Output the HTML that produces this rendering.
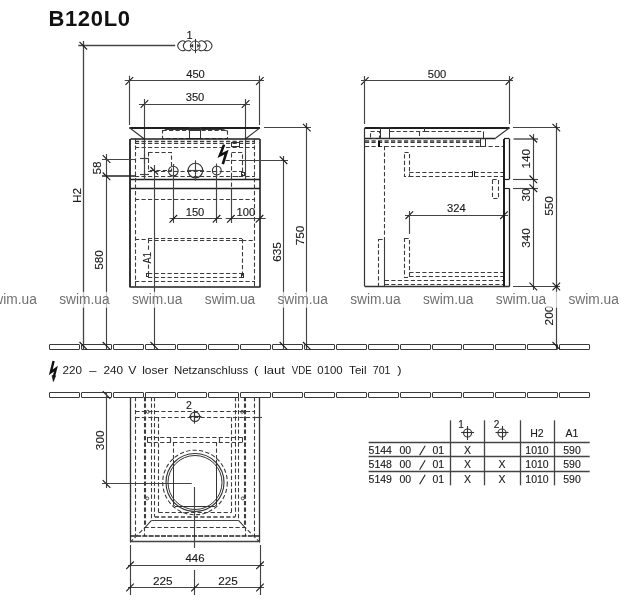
<!DOCTYPE html>
<html><head><meta charset="utf-8"><style>
html,body{margin:0;padding:0;background:#fff;}
svg{display:block;font-family:"Liberation Sans",sans-serif;will-change:transform;}
</style></head><body>
<svg width="630" height="600" viewBox="0 0 630 600">
<rect width="630" height="600" fill="#fff"/>
<text x="48.4" y="26.2" font-size="22" fill="#111" font-weight="bold" textLength="81.6" lengthAdjust="spacing">B120L0</text>
<line x1="78.3" y1="45.5" x2="175.2" y2="45.5" stroke="#444444" stroke-width="1.3"/>
<line x1="83.5" y1="41.0" x2="83.5" y2="349.0" stroke="#444444" stroke-width="1.3"/>
<line x1="79.5" y1="41.9" x2="87.1" y2="49.5" stroke="#1a1a1a" stroke-width="1.1"/>
<path d="M185.45,41.87 A4.8,4.8 0 1 0 185.45,49.73" fill="none" stroke="#333" stroke-width="1.05"/>
<path d="M191.05,41.87 A4.8,4.8 0 1 0 191.05,49.73" fill="none" stroke="#333" stroke-width="1.05"/>
<circle cx="195.2" cy="45.8" r="4.8" fill="none" stroke="#333" stroke-width="1"/>
<path d="M198.75,41.87 A4.8,4.8 0 1 1 198.75,49.73" fill="none" stroke="#333" stroke-width="1.05"/>
<path d="M204.25,41.87 A4.8,4.8 0 1 1 204.25,49.73" fill="none" stroke="#333" stroke-width="1.05"/>
<line x1="195.5" y1="38.9" x2="195.5" y2="53.2" stroke="#333" stroke-width="1"/>
<path d="M190.5,45.8 L193,44.3 L193,47.3 Z" fill="#333" stroke="#333" stroke-width="0.5"/>
<path d="M199.9,45.8 L197.4,44.3 L197.4,47.3 Z" fill="#333" stroke="#333" stroke-width="0.5"/>
<text x="0" y="0" font-size="11" text-anchor="middle" fill="#1a1a1a" font-weight="normal" stroke="#1a1a1a" stroke-width="0.12" transform="translate(189.5 38.5) rotate(0) scale(1 1)">1</text>
<line x1="124.7" y1="80.5" x2="264.0" y2="80.5" stroke="#444444" stroke-width="1.15"/>
<line x1="125.5" y1="84.8" x2="133.1" y2="77.2" stroke="#1a1a1a" stroke-width="1.1"/>
<line x1="256.0" y1="84.8" x2="263.6" y2="77.2" stroke="#1a1a1a" stroke-width="1.1"/>
<line x1="129.5" y1="75.7" x2="129.5" y2="125.0" stroke="#444444" stroke-width="1.15"/>
<line x1="259.5" y1="75.7" x2="259.5" y2="125.0" stroke="#444444" stroke-width="1.15"/>
<text x="0" y="0" font-size="10" text-anchor="middle" fill="#1a1a1a" font-weight="normal" stroke="#1a1a1a" stroke-width="0.12" transform="translate(195.5 78.0) rotate(0) scale(1.12 1)">450</text>
<line x1="139.0" y1="104.5" x2="250.0" y2="104.5" stroke="#444444" stroke-width="1.15"/>
<line x1="140.6" y1="107.8" x2="148.2" y2="100.2" stroke="#1a1a1a" stroke-width="1.1"/>
<line x1="241.8" y1="107.8" x2="249.4" y2="100.2" stroke="#1a1a1a" stroke-width="1.1"/>
<line x1="144.5" y1="99.0" x2="144.5" y2="180.0" stroke="#444444" stroke-width="1.15"/>
<line x1="245.5" y1="99.0" x2="245.5" y2="180.0" stroke="#444444" stroke-width="1.15"/>
<text x="0" y="0" font-size="10" text-anchor="middle" fill="#1a1a1a" font-weight="normal" stroke="#1a1a1a" stroke-width="0.12" transform="translate(195.0 101.2) rotate(0) scale(1.12 1)">350</text>
<line x1="129.5" y1="128.0" x2="260.0" y2="128.0" stroke="#1e1e1e" stroke-width="1.8"/>
<line x1="129.5" y1="127.8" x2="144.0" y2="138.7" stroke="#333" stroke-width="1.1"/>
<line x1="260.0" y1="127.8" x2="245.6" y2="138.7" stroke="#333" stroke-width="1.1"/>
<line x1="166.0" y1="129.5" x2="222.8" y2="129.5" stroke="#333" stroke-width="1"/>
<line x1="162.8" y1="131.0" x2="166.0" y2="129.4" stroke="#333" stroke-width="1"/>
<line x1="227.2" y1="131.0" x2="222.8" y2="129.4" stroke="#333" stroke-width="1"/>
<rect x="162.5" y="130.5" width="65.0" height="8.0" fill="none" stroke="#3c3c3c" stroke-width="1.1" stroke-dasharray="4.2,2.3"/>
<rect x="189.5" y="127.5" width="11.0" height="11.0" fill="none" stroke="#333" stroke-width="1"/>
<line x1="189.4" y1="130.5" x2="200.6" y2="130.5" stroke="#333" stroke-width="1"/>
<line x1="130.5" y1="139.0" x2="259.8" y2="139.0" stroke="#1e1e1e" stroke-width="1.6"/>
<line x1="130.0" y1="139.0" x2="130.0" y2="287.4" stroke="#1e1e1e" stroke-width="1.8"/>
<line x1="260.0" y1="139.0" x2="260.0" y2="287.4" stroke="#1e1e1e" stroke-width="1.6"/>
<line x1="130.5" y1="287.0" x2="259.8" y2="287.0" stroke="#1e1e1e" stroke-width="1.6"/>
<line x1="130.5" y1="179.5" x2="259.8" y2="179.5" stroke="#1e1e1e" stroke-width="1.3"/>
<line x1="130.5" y1="188.5" x2="259.8" y2="188.5" stroke="#1e1e1e" stroke-width="1.3"/>
<line x1="135.0" y1="141.5" x2="255.0" y2="141.5" stroke="#3c3c3c" stroke-width="1.4" stroke-dasharray="4.2,2.3"/>
<line x1="135.0" y1="143.5" x2="255.0" y2="143.5" stroke="#3c3c3c" stroke-width="1.2" stroke-dasharray="4.2,2.3"/>
<line x1="135.0" y1="147.5" x2="255.0" y2="147.5" stroke="#3c3c3c" stroke-width="1.1" stroke-dasharray="4.2,2.3"/>
<line x1="135.0" y1="176.5" x2="255.0" y2="176.5" stroke="#3c3c3c" stroke-width="1.1" stroke-dasharray="4.2,2.3"/>
<line x1="135.5" y1="139.0" x2="135.5" y2="287.0" stroke="#3c3c3c" stroke-width="1.1" stroke-dasharray="4.2,2.3"/>
<line x1="254.5" y1="139.0" x2="254.5" y2="287.0" stroke="#3c3c3c" stroke-width="1.1" stroke-dasharray="4.2,2.3"/>
<rect x="148.5" y="152.5" width="23.0" height="18.0" fill="none" stroke="#3c3c3c" stroke-width="1.1" stroke-dasharray="4.2,2.3"/>
<rect x="231.5" y="152.5" width="11.0" height="24.0" fill="none" stroke="#3c3c3c" stroke-width="1.1" stroke-dasharray="4.2,2.3"/>
<line x1="148.0" y1="171.5" x2="245.0" y2="171.5" stroke="#3c3c3c" stroke-width="1.1" stroke-dasharray="4.2,2.3"/>
<rect x="231.5" y="142.5" width="8.0" height="4.0" fill="none" stroke="#333" stroke-width="1"/>
<circle cx="173.3" cy="171.1" r="4.8" fill="none" stroke="#333" stroke-width="1.1"/>
<circle cx="195.4" cy="170.6" r="7.3" fill="none" stroke="#333" stroke-width="1.1"/>
<circle cx="216.8" cy="170.6" r="4.4" fill="none" stroke="#333" stroke-width="1.1"/>
<line x1="173.5" y1="164.0" x2="173.5" y2="223.0" stroke="#444444" stroke-width="1.15"/>
<line x1="195.5" y1="160.3" x2="195.5" y2="180.6" stroke="#444444" stroke-width="1.15"/>
<line x1="216.5" y1="163.5" x2="216.5" y2="223.0" stroke="#444444" stroke-width="1.15"/>
<line x1="187.0" y1="170.5" x2="204.0" y2="170.5" stroke="#444444" stroke-width="1.15"/>
<line x1="144.5" y1="154.0" x2="144.5" y2="164.0" stroke="#444444" stroke-width="1.15"/>
<line x1="140.0" y1="158.5" x2="149.0" y2="158.5" stroke="#444444" stroke-width="1.15"/>
<line x1="144.5" y1="170.0" x2="144.5" y2="180.0" stroke="#444444" stroke-width="1.15"/>
<line x1="140.0" y1="174.5" x2="149.0" y2="174.5" stroke="#444444" stroke-width="1.15"/>
<line x1="225.6" y1="160.5" x2="242.0" y2="160.5" stroke="#3c3c3c" stroke-width="1.1" stroke-dasharray="4.2,2.3"/>
<rect x="241.5" y="172.5" width="3.0" height="3.0" fill="none" stroke="#333" stroke-width="1"/>
<path d="M224.1,144.6 L219.9,155.4 L226.5,152.2 L222.8,164.2" fill="none" stroke="#111" stroke-width="2.6" stroke-linejoin="miter" stroke-miterlimit="3"/>
<line x1="231.5" y1="176.0" x2="231.5" y2="188.3" stroke="#3c3c3c" stroke-width="1.1" stroke-dasharray="4.2,2.3"/>
<line x1="231.5" y1="188.3" x2="231.5" y2="223.0" stroke="#444444" stroke-width="1.15"/>
<line x1="169.5" y1="218.5" x2="222.0" y2="218.5" stroke="#444444" stroke-width="1.15"/>
<line x1="225.7" y1="218.5" x2="265.7" y2="218.5" stroke="#444444" stroke-width="1.15"/>
<line x1="169.5" y1="222.6" x2="177.1" y2="215.0" stroke="#1a1a1a" stroke-width="1.1"/>
<line x1="212.7" y1="222.6" x2="220.3" y2="215.0" stroke="#1a1a1a" stroke-width="1.1"/>
<line x1="227.1" y1="222.6" x2="234.7" y2="215.0" stroke="#1a1a1a" stroke-width="1.1"/>
<line x1="255.7" y1="222.6" x2="263.3" y2="215.0" stroke="#1a1a1a" stroke-width="1.1"/>
<text x="0" y="0" font-size="10" text-anchor="middle" fill="#1a1a1a" font-weight="normal" stroke="#1a1a1a" stroke-width="0.12" transform="translate(195.0 216.0) rotate(0) scale(1.12 1)">150</text>
<text x="0" y="0" font-size="10" text-anchor="middle" fill="#1a1a1a" font-weight="normal" stroke="#1a1a1a" stroke-width="0.12" transform="translate(245.8 216.0) rotate(0) scale(1.12 1)">100</text>
<line x1="135.0" y1="199.5" x2="254.8" y2="199.5" stroke="#3c3c3c" stroke-width="1.1" stroke-dasharray="4.2,2.3"/>
<line x1="135.0" y1="281.5" x2="255.0" y2="281.5" stroke="#3c3c3c" stroke-width="1.1" stroke-dasharray="4.2,2.3"/>
<line x1="135.0" y1="239.5" x2="148.0" y2="239.5" stroke="#3c3c3c" stroke-width="1.1" stroke-dasharray="4.2,2.3"/>
<line x1="148.0" y1="238.5" x2="242.1" y2="238.5" stroke="#3c3c3c" stroke-width="1.1" stroke-dasharray="4.2,2.3"/>
<line x1="148.0" y1="240.5" x2="242.1" y2="240.5" stroke="#3c3c3c" stroke-width="1.1" stroke-dasharray="4.2,2.3"/>
<line x1="242.1" y1="240.5" x2="254.8" y2="240.5" stroke="#3c3c3c" stroke-width="1.1" stroke-dasharray="4.2,2.3"/>
<line x1="148.5" y1="239.0" x2="148.5" y2="250.5" stroke="#3c3c3c" stroke-width="1.1" stroke-dasharray="4.2,2.3"/>
<line x1="148.5" y1="264.5" x2="148.5" y2="277.0" stroke="#3c3c3c" stroke-width="1.1" stroke-dasharray="4.2,2.3"/>
<line x1="242.5" y1="239.0" x2="242.5" y2="277.0" stroke="#3c3c3c" stroke-width="1.1" stroke-dasharray="4.2,2.3"/>
<line x1="148.0" y1="273.5" x2="242.1" y2="273.5" stroke="#3c3c3c" stroke-width="1.1" stroke-dasharray="4.2,2.3"/>
<line x1="148.0" y1="277.5" x2="242.1" y2="277.5" stroke="#3c3c3c" stroke-width="1.1" stroke-dasharray="4.2,2.3"/>
<rect x="241.5" y="273.5" width="2.0" height="4.0" fill="none" stroke="#333" stroke-width="1"/>
<rect x="146.5" y="273.5" width="2.0" height="3.0" fill="none" stroke="#333" stroke-width="1"/>
<line x1="154.5" y1="165.0" x2="154.5" y2="349.0" stroke="#444444" stroke-width="1.15"/>
<line x1="150.5" y1="167.0" x2="158.1" y2="174.6" stroke="#1a1a1a" stroke-width="1.1"/>
<text x="0" y="0" font-size="10" text-anchor="middle" fill="#1a1a1a" stroke="#1a1a1a" stroke-width="0.12" transform="translate(150.9 257.8) rotate(-90) scale(0.92 1)">A1</text>
<line x1="106.5" y1="154.0" x2="106.5" y2="349.0" stroke="#444444" stroke-width="1.15"/>
<line x1="102.7" y1="155.2" x2="110.3" y2="162.8" stroke="#1a1a1a" stroke-width="1.1"/>
<line x1="102.7" y1="172.5" x2="110.3" y2="180.1" stroke="#1a1a1a" stroke-width="1.1"/>
<line x1="102.0" y1="159.5" x2="136.0" y2="159.5" stroke="#444444" stroke-width="1.15"/>
<line x1="102.0" y1="176.0" x2="136.0" y2="176.0" stroke="#222" stroke-width="1.6"/>
<text x="0" y="0" font-size="10" text-anchor="middle" fill="#1a1a1a" stroke="#1a1a1a" stroke-width="0.12" transform="translate(100.6 168.0) rotate(-90) scale(1.18 1)">58</text>
<text x="0" y="0" font-size="10" text-anchor="middle" fill="#1a1a1a" stroke="#1a1a1a" stroke-width="0.12" transform="translate(102.8 260.0) rotate(-90) scale(1.18 1)">580</text>
<text x="0" y="0" font-size="10" text-anchor="middle" fill="#1a1a1a" stroke="#1a1a1a" stroke-width="0.12" transform="translate(80.6 195.5) rotate(-90) scale(1.18 1)">H2</text>
<line x1="242.0" y1="160.5" x2="288.0" y2="160.5" stroke="#444444" stroke-width="1.15"/>
<line x1="283.5" y1="156.0" x2="283.5" y2="349.0" stroke="#444444" stroke-width="1.15"/>
<line x1="279.7" y1="156.4" x2="287.3" y2="164.0" stroke="#1a1a1a" stroke-width="1.1"/>
<text x="0" y="0" font-size="10" text-anchor="middle" fill="#1a1a1a" stroke="#1a1a1a" stroke-width="0.12" transform="translate(281.2 252.0) rotate(-90) scale(1.18 1)">635</text>
<line x1="264.0" y1="127.5" x2="311.0" y2="127.5" stroke="#444444" stroke-width="1.15"/>
<line x1="306.5" y1="123.0" x2="306.5" y2="349.0" stroke="#444444" stroke-width="1.15"/>
<line x1="303.0" y1="123.8" x2="310.6" y2="131.4" stroke="#1a1a1a" stroke-width="1.1"/>
<text x="0" y="0" font-size="10" text-anchor="middle" fill="#1a1a1a" stroke="#1a1a1a" stroke-width="0.12" transform="translate(303.6 235.5) rotate(-90) scale(1.18 1)">750</text>
<line x1="361.0" y1="80.5" x2="513.0" y2="80.5" stroke="#444444" stroke-width="1.15"/>
<line x1="361.0" y1="84.8" x2="368.6" y2="77.2" stroke="#1a1a1a" stroke-width="1.1"/>
<line x1="505.6" y1="84.8" x2="513.2" y2="77.2" stroke="#1a1a1a" stroke-width="1.1"/>
<line x1="364.5" y1="76.0" x2="364.5" y2="124.0" stroke="#444444" stroke-width="1.15"/>
<line x1="509.5" y1="76.0" x2="509.5" y2="124.0" stroke="#444444" stroke-width="1.15"/>
<text x="0" y="0" font-size="10" text-anchor="middle" fill="#1a1a1a" font-weight="normal" stroke="#1a1a1a" stroke-width="0.12" transform="translate(437.0 78.0) rotate(0) scale(1.12 1)">500</text>
<line x1="364.8" y1="128.0" x2="509.5" y2="128.0" stroke="#1e1e1e" stroke-width="1.8"/>
<line x1="509.5" y1="127.8" x2="495.7" y2="138.0" stroke="#333" stroke-width="1.1"/>
<line x1="364.8" y1="138.5" x2="495.7" y2="138.5" stroke="#222" stroke-width="1.3"/>
<rect x="370.5" y="131.5" width="9.0" height="7.0" fill="none" stroke="#3c3c3c" stroke-width="1.1" stroke-dasharray="4.2,2.3"/>
<rect x="380.5" y="127.5" width="9.0" height="11.0" fill="none" stroke="#333" stroke-width="1"/>
<line x1="390.0" y1="131.5" x2="425.0" y2="131.5" stroke="#3c3c3c" stroke-width="1.1" stroke-dasharray="4.2,2.3"/>
<line x1="424.5" y1="127.7" x2="424.5" y2="131.7" stroke="#333" stroke-width="1"/>
<line x1="425.0" y1="131.5" x2="483.3" y2="131.5" stroke="#3c3c3c" stroke-width="1.1" stroke-dasharray="4.2,2.3"/>
<line x1="419.5" y1="131.7" x2="419.5" y2="138.3" stroke="#3c3c3c" stroke-width="1.1" stroke-dasharray="4.2,2.3"/>
<line x1="483.5" y1="131.5" x2="483.5" y2="138.3" stroke="#333" stroke-width="1"/>
<line x1="364.5" y1="127.7" x2="364.5" y2="286.5" stroke="#333" stroke-width="1.2"/>
<line x1="365.0" y1="141.0" x2="480.0" y2="141.0" stroke="#3c3c3c" stroke-width="1.6" stroke-dasharray="4.2,2.3"/>
<line x1="365.0" y1="142.5" x2="480.0" y2="142.5" stroke="#3c3c3c" stroke-width="1" stroke-dasharray="4.2,2.3"/>
<rect x="480.5" y="138.5" width="5.0" height="8.0" fill="none" stroke="#333" stroke-width="1"/>
<line x1="365.0" y1="146.5" x2="504.0" y2="146.5" stroke="#3c3c3c" stroke-width="1.1" stroke-dasharray="4.2,2.3"/>
<line x1="379.0" y1="141.0" x2="379.0" y2="147.0" stroke="#111" stroke-width="2"/>
<line x1="384.5" y1="146.0" x2="384.5" y2="287.0" stroke="#3c3c3c" stroke-width="1.1" stroke-dasharray="4.2,2.3"/>
<rect x="404.5" y="152.5" width="5.0" height="24.0" fill="none" stroke="#3c3c3c" stroke-width="1.1" stroke-dasharray="4.2,2.3"/>
<line x1="409.3" y1="172.5" x2="504.0" y2="172.5" stroke="#3c3c3c" stroke-width="1.1" stroke-dasharray="4.2,2.3"/>
<line x1="409.3" y1="176.5" x2="504.0" y2="176.5" stroke="#3c3c3c" stroke-width="1.1" stroke-dasharray="4.2,2.3"/>
<line x1="472.5" y1="171.0" x2="472.5" y2="177.0" stroke="#222" stroke-width="1"/>
<line x1="474.5" y1="171.0" x2="474.5" y2="177.0" stroke="#222" stroke-width="1"/>
<rect x="492.5" y="179.5" width="6.0" height="19.0" fill="none" stroke="#3c3c3c" stroke-width="1.1" stroke-dasharray="4.2,2.3"/>
<line x1="405.0" y1="215.5" x2="508.0" y2="215.5" stroke="#444444" stroke-width="1.15"/>
<line x1="405.5" y1="219.0" x2="413.1" y2="211.4" stroke="#1a1a1a" stroke-width="1.1"/>
<line x1="500.2" y1="219.0" x2="507.8" y2="211.4" stroke="#1a1a1a" stroke-width="1.1"/>
<text x="0" y="0" font-size="10" text-anchor="middle" fill="#1a1a1a" font-weight="normal" stroke="#1a1a1a" stroke-width="0.12" transform="translate(456.4 211.5) rotate(0) scale(1.12 1)">324</text>
<line x1="409.5" y1="211.0" x2="409.5" y2="234.0" stroke="#444444" stroke-width="1.15"/>
<rect x="404.5" y="238.5" width="5.0" height="39.0" fill="none" stroke="#3c3c3c" stroke-width="1.1" stroke-dasharray="4.2,2.3"/>
<rect x="378.5" y="239.5" width="6.0" height="47.0" fill="none" stroke="#3c3c3c" stroke-width="1.1" stroke-dasharray="4.2,2.3"/>
<line x1="409.3" y1="272.5" x2="504.0" y2="272.5" stroke="#3c3c3c" stroke-width="1.1" stroke-dasharray="4.2,2.3"/>
<line x1="409.3" y1="276.5" x2="504.0" y2="276.5" stroke="#3c3c3c" stroke-width="1.1" stroke-dasharray="4.2,2.3"/>
<line x1="384.8" y1="280.5" x2="504.0" y2="280.5" stroke="#3c3c3c" stroke-width="1.1" stroke-dasharray="4.2,2.3"/>
<line x1="384.8" y1="284.5" x2="504.0" y2="284.5" stroke="#3c3c3c" stroke-width="1.1" stroke-dasharray="4.2,2.3"/>
<line x1="364.8" y1="286.5" x2="509.4" y2="286.5" stroke="#333" stroke-width="1.3"/>
<line x1="504.0" y1="139.0" x2="504.0" y2="286.5" stroke="#1e1e1e" stroke-width="2"/>
<line x1="509.5" y1="138.7" x2="509.5" y2="179.3" stroke="#1e1e1e" stroke-width="1.3"/>
<line x1="509.5" y1="188.3" x2="509.5" y2="286.5" stroke="#1e1e1e" stroke-width="1.3"/>
<line x1="504.0" y1="179.5" x2="509.3" y2="179.5" stroke="#1e1e1e" stroke-width="1.2"/>
<line x1="504.0" y1="188.5" x2="509.3" y2="188.5" stroke="#1e1e1e" stroke-width="1.2"/>
<line x1="504.0" y1="138.5" x2="509.3" y2="138.5" stroke="#1e1e1e" stroke-width="1.2"/>
<line x1="513.0" y1="127.5" x2="560.0" y2="127.5" stroke="#444444" stroke-width="1.15"/>
<line x1="513.6" y1="139.0" x2="538.0" y2="139.0" stroke="#555" stroke-width="1.5"/>
<line x1="513.0" y1="179.5" x2="538.0" y2="179.5" stroke="#444444" stroke-width="1.15"/>
<line x1="513.0" y1="188.5" x2="538.0" y2="188.5" stroke="#444444" stroke-width="1.15"/>
<line x1="513.0" y1="286.5" x2="560.0" y2="286.5" stroke="#444444" stroke-width="1.15"/>
<line x1="533.5" y1="134.0" x2="533.5" y2="290.0" stroke="#444444" stroke-width="1.15"/>
<line x1="529.5" y1="134.9" x2="537.1" y2="142.5" stroke="#1a1a1a" stroke-width="1.1"/>
<line x1="529.5" y1="175.5" x2="537.1" y2="183.1" stroke="#1a1a1a" stroke-width="1.1"/>
<line x1="529.5" y1="184.4" x2="537.1" y2="192.0" stroke="#1a1a1a" stroke-width="1.1"/>
<line x1="529.5" y1="282.7" x2="537.1" y2="290.3" stroke="#1a1a1a" stroke-width="1.1"/>
<text x="0" y="0" font-size="10" text-anchor="middle" fill="#1a1a1a" stroke="#1a1a1a" stroke-width="0.12" transform="translate(529.9 158.7) rotate(-90) scale(1.18 1)">140</text>
<text x="0" y="0" font-size="10" text-anchor="middle" fill="#1a1a1a" stroke="#1a1a1a" stroke-width="0.12" transform="translate(529.9 195.0) rotate(-90) scale(1.18 1)">30</text>
<text x="0" y="0" font-size="10" text-anchor="middle" fill="#1a1a1a" stroke="#1a1a1a" stroke-width="0.12" transform="translate(529.9 238.0) rotate(-90) scale(1.18 1)">340</text>
<line x1="556.5" y1="123.0" x2="556.5" y2="349.0" stroke="#444444" stroke-width="1.2"/>
<line x1="552.5" y1="123.8" x2="560.1" y2="131.4" stroke="#1a1a1a" stroke-width="1.1"/>
<line x1="552.5" y1="282.7" x2="560.1" y2="290.3" stroke="#1a1a1a" stroke-width="1.1"/>
<line x1="552.5" y1="290.3" x2="560.1" y2="282.7" stroke="#1a1a1a" stroke-width="1.1"/>
<text x="0" y="0" font-size="10" text-anchor="middle" fill="#1a1a1a" stroke="#1a1a1a" stroke-width="0.12" transform="translate(553.3 206.0) rotate(-90) scale(1.18 1)">550</text>
<text x="0" y="0" font-size="10" text-anchor="middle" fill="#1a1a1a" stroke="#1a1a1a" stroke-width="0.12" transform="translate(552.8 315.6) rotate(-90) scale(1.18 1)">200</text>
<rect x="49.5" y="344.5" width="30.0" height="5.0" fill="none" stroke="#3a3a3a" stroke-width="1" rx="0.3"/>
<rect x="81.5" y="344.5" width="30.0" height="5.0" fill="none" stroke="#3a3a3a" stroke-width="1" rx="0.3"/>
<rect x="113.5" y="344.5" width="30.0" height="5.0" fill="none" stroke="#3a3a3a" stroke-width="1" rx="0.3"/>
<rect x="145.5" y="344.5" width="30.0" height="5.0" fill="none" stroke="#3a3a3a" stroke-width="1" rx="0.3"/>
<rect x="177.5" y="344.5" width="29.0" height="5.0" fill="none" stroke="#3a3a3a" stroke-width="1" rx="0.3"/>
<rect x="208.5" y="344.5" width="30.0" height="5.0" fill="none" stroke="#3a3a3a" stroke-width="1" rx="0.3"/>
<rect x="240.5" y="344.5" width="30.0" height="5.0" fill="none" stroke="#3a3a3a" stroke-width="1" rx="0.3"/>
<rect x="272.5" y="344.5" width="30.0" height="5.0" fill="none" stroke="#3a3a3a" stroke-width="1" rx="0.3"/>
<rect x="304.5" y="344.5" width="30.0" height="5.0" fill="none" stroke="#3a3a3a" stroke-width="1" rx="0.3"/>
<rect x="336.5" y="344.5" width="30.0" height="5.0" fill="none" stroke="#3a3a3a" stroke-width="1" rx="0.3"/>
<rect x="368.5" y="344.5" width="30.0" height="5.0" fill="none" stroke="#3a3a3a" stroke-width="1" rx="0.3"/>
<rect x="400.5" y="344.5" width="30.0" height="5.0" fill="none" stroke="#3a3a3a" stroke-width="1" rx="0.3"/>
<rect x="432.5" y="344.5" width="29.0" height="5.0" fill="none" stroke="#3a3a3a" stroke-width="1" rx="0.3"/>
<rect x="463.5" y="344.5" width="30.0" height="5.0" fill="none" stroke="#3a3a3a" stroke-width="1" rx="0.3"/>
<rect x="495.5" y="344.5" width="30.0" height="5.0" fill="none" stroke="#3a3a3a" stroke-width="1" rx="0.3"/>
<rect x="527.5" y="344.5" width="30.0" height="5.0" fill="none" stroke="#3a3a3a" stroke-width="1" rx="0.3"/>
<rect x="559.5" y="344.5" width="30.0" height="5.0" fill="none" stroke="#3a3a3a" stroke-width="1" rx="0.3"/>
<rect x="49.5" y="392.5" width="30.0" height="5.0" fill="none" stroke="#3a3a3a" stroke-width="1" rx="0.3"/>
<rect x="81.5" y="392.5" width="30.0" height="5.0" fill="none" stroke="#3a3a3a" stroke-width="1" rx="0.3"/>
<rect x="113.5" y="392.5" width="30.0" height="5.0" fill="none" stroke="#3a3a3a" stroke-width="1" rx="0.3"/>
<rect x="145.5" y="392.5" width="30.0" height="5.0" fill="none" stroke="#3a3a3a" stroke-width="1" rx="0.3"/>
<rect x="177.5" y="392.5" width="29.0" height="5.0" fill="none" stroke="#3a3a3a" stroke-width="1" rx="0.3"/>
<rect x="208.5" y="392.5" width="30.0" height="5.0" fill="none" stroke="#3a3a3a" stroke-width="1" rx="0.3"/>
<rect x="240.5" y="392.5" width="30.0" height="5.0" fill="none" stroke="#3a3a3a" stroke-width="1" rx="0.3"/>
<rect x="272.5" y="392.5" width="30.0" height="5.0" fill="none" stroke="#3a3a3a" stroke-width="1" rx="0.3"/>
<rect x="304.5" y="392.5" width="30.0" height="5.0" fill="none" stroke="#3a3a3a" stroke-width="1" rx="0.3"/>
<rect x="336.5" y="392.5" width="30.0" height="5.0" fill="none" stroke="#3a3a3a" stroke-width="1" rx="0.3"/>
<rect x="368.5" y="392.5" width="30.0" height="5.0" fill="none" stroke="#3a3a3a" stroke-width="1" rx="0.3"/>
<rect x="400.5" y="392.5" width="30.0" height="5.0" fill="none" stroke="#3a3a3a" stroke-width="1" rx="0.3"/>
<rect x="432.5" y="392.5" width="29.0" height="5.0" fill="none" stroke="#3a3a3a" stroke-width="1" rx="0.3"/>
<rect x="463.5" y="392.5" width="30.0" height="5.0" fill="none" stroke="#3a3a3a" stroke-width="1" rx="0.3"/>
<rect x="495.5" y="392.5" width="30.0" height="5.0" fill="none" stroke="#3a3a3a" stroke-width="1" rx="0.3"/>
<rect x="527.5" y="392.5" width="30.0" height="5.0" fill="none" stroke="#3a3a3a" stroke-width="1" rx="0.3"/>
<rect x="559.5" y="392.5" width="30.0" height="5.0" fill="none" stroke="#3a3a3a" stroke-width="1" rx="0.3"/>
<line x1="79.5" y1="342.0" x2="87.1" y2="349.6" stroke="#1a1a1a" stroke-width="1.1"/>
<line x1="102.7" y1="342.0" x2="110.3" y2="349.6" stroke="#1a1a1a" stroke-width="1.1"/>
<line x1="150.5" y1="342.0" x2="158.1" y2="349.6" stroke="#1a1a1a" stroke-width="1.1"/>
<line x1="279.7" y1="342.0" x2="287.3" y2="349.6" stroke="#1a1a1a" stroke-width="1.1"/>
<line x1="303.0" y1="342.0" x2="310.6" y2="349.6" stroke="#1a1a1a" stroke-width="1.1"/>
<line x1="552.5" y1="342.0" x2="560.1" y2="349.6" stroke="#1a1a1a" stroke-width="1.1"/>
<line x1="102.7" y1="391.2" x2="110.3" y2="398.8" stroke="#1a1a1a" stroke-width="1.1"/>
<path d="M53.6,361 L50.8,372.3 L55.9,368.6 L53.9,376.5" fill="none" stroke="#111" stroke-width="2.4" stroke-linejoin="miter"/>
<path d="M52,375.5 L55.6,375.8 L53.4,381.6 Z" fill="#111" stroke="#111" stroke-width="0.6"/>
<text x="62.6" y="374.3" font-size="10.5" fill="#1a1a1a" textLength="19.5" lengthAdjust="spacingAndGlyphs">220</text>
<text x="89.3" y="374.3" font-size="10.5" fill="#1a1a1a" textLength="7.2" lengthAdjust="spacingAndGlyphs">&#8211;</text>
<text x="103.5" y="374.3" font-size="10.5" fill="#1a1a1a" textLength="19.7" lengthAdjust="spacingAndGlyphs">240</text>
<text x="128.3" y="374.3" font-size="10.5" fill="#1a1a1a" textLength="8.2" lengthAdjust="spacingAndGlyphs">V</text>
<text x="142.2" y="374.3" font-size="10.5" fill="#1a1a1a" textLength="26.1" lengthAdjust="spacingAndGlyphs">loser</text>
<text x="173.9" y="374.3" font-size="10.5" fill="#1a1a1a" textLength="74.4" lengthAdjust="spacingAndGlyphs">Netzanschluss</text>
<text x="253.9" y="374.3" font-size="10.5" fill="#1a1a1a" textLength="4.4" lengthAdjust="spacingAndGlyphs">(</text>
<text x="263.9" y="374.3" font-size="10.5" fill="#1a1a1a" textLength="21.0" lengthAdjust="spacingAndGlyphs">laut</text>
<text x="291.7" y="374.3" font-size="10.5" fill="#1a1a1a" textLength="19.9" lengthAdjust="spacingAndGlyphs">VDE</text>
<text x="317.3" y="374.3" font-size="10.5" fill="#1a1a1a" textLength="25.4" lengthAdjust="spacingAndGlyphs">0100</text>
<text x="349.1" y="374.3" font-size="10.5" fill="#1a1a1a" textLength="17.4" lengthAdjust="spacingAndGlyphs">Teil</text>
<text x="372.8" y="374.3" font-size="10.5" fill="#1a1a1a" textLength="17.7" lengthAdjust="spacingAndGlyphs">701</text>
<text x="397.3" y="374.3" font-size="10.5" fill="#1a1a1a" textLength="4.3" lengthAdjust="spacingAndGlyphs">)</text>
<line x1="106.5" y1="392.0" x2="106.5" y2="488.0" stroke="#444444" stroke-width="1.15"/>
<line x1="102.7" y1="480.2" x2="110.3" y2="487.8" stroke="#1a1a1a" stroke-width="1.1"/>
<line x1="102.0" y1="483.5" x2="191.7" y2="483.5" stroke="#444444" stroke-width="1.15"/>
<text x="0" y="0" font-size="10" text-anchor="middle" fill="#1a1a1a" stroke="#1a1a1a" stroke-width="0.12" transform="translate(103.5 440.3) rotate(-90) scale(1.18 1)">300</text>
<line x1="130.5" y1="397.0" x2="130.5" y2="541.5" stroke="#333" stroke-width="1.3"/>
<line x1="259.5" y1="397.0" x2="259.5" y2="541.5" stroke="#333" stroke-width="1.3"/>
<line x1="135.5" y1="397.0" x2="135.5" y2="536.0" stroke="#3c3c3c" stroke-width="1.1" stroke-dasharray="4.2,2.3"/>
<line x1="254.5" y1="397.0" x2="254.5" y2="536.0" stroke="#3c3c3c" stroke-width="1.1" stroke-dasharray="4.2,2.3"/>
<line x1="144.5" y1="397.0" x2="144.5" y2="536.0" stroke="#3c3c3c" stroke-width="1.1" stroke-dasharray="4.2,2.3"/>
<line x1="245.5" y1="397.0" x2="245.5" y2="536.0" stroke="#3c3c3c" stroke-width="1.1" stroke-dasharray="4.2,2.3"/>
<line x1="145.5" y1="397.0" x2="145.5" y2="527.5" stroke="#3c3c3c" stroke-width="1.1" stroke-dasharray="4.2,2.3"/>
<line x1="244.5" y1="397.0" x2="244.5" y2="527.5" stroke="#3c3c3c" stroke-width="1.1" stroke-dasharray="4.2,2.3"/>
<line x1="151.5" y1="397.0" x2="151.5" y2="520.3" stroke="#3c3c3c" stroke-width="1.1" stroke-dasharray="4.2,2.3"/>
<line x1="238.5" y1="397.0" x2="238.5" y2="520.3" stroke="#3c3c3c" stroke-width="1.1" stroke-dasharray="4.2,2.3"/>
<line x1="154.5" y1="397.0" x2="154.5" y2="516.8" stroke="#3c3c3c" stroke-width="1.1" stroke-dasharray="4.2,2.3"/>
<line x1="235.5" y1="397.0" x2="235.5" y2="516.8" stroke="#3c3c3c" stroke-width="1.1" stroke-dasharray="4.2,2.3"/>
<line x1="158.5" y1="417.2" x2="158.5" y2="513.0" stroke="#3c3c3c" stroke-width="1.1" stroke-dasharray="4.2,2.3"/>
<line x1="231.5" y1="417.2" x2="231.5" y2="513.0" stroke="#3c3c3c" stroke-width="1.1" stroke-dasharray="4.2,2.3"/>
<line x1="135.4" y1="411.5" x2="254.6" y2="411.5" stroke="#3c3c3c" stroke-width="1.1" stroke-dasharray="4.2,2.3"/>
<line x1="135.4" y1="417.5" x2="254.6" y2="417.5" stroke="#3c3c3c" stroke-width="1.1" stroke-dasharray="4.2,2.3"/>
<line x1="254.6" y1="417.5" x2="262.0" y2="417.5" stroke="#444444" stroke-width="1.15"/>
<circle cx="147.8" cy="411.8" r="1.5" fill="none" stroke="#444444" stroke-width="1"/>
<circle cx="242.2" cy="411.8" r="1.5" fill="none" stroke="#444444" stroke-width="1"/>
<circle cx="195.0" cy="416.8" r="4.7" fill="none" stroke="#333" stroke-width="1.2"/>
<line x1="194.5" y1="410.0" x2="194.5" y2="423.6" stroke="#333" stroke-width="1.2"/>
<line x1="189.3" y1="416.5" x2="201.4" y2="416.5" stroke="#333" stroke-width="1.2"/>
<text x="0" y="0" font-size="10" text-anchor="middle" fill="#1a1a1a" font-weight="normal" stroke="#1a1a1a" stroke-width="0.12" transform="translate(189.0 408.5) rotate(0) scale(1.05 1)">2</text>
<line x1="147.2" y1="437.5" x2="242.8" y2="437.5" stroke="#3c3c3c" stroke-width="1.1" stroke-dasharray="4.2,2.3"/>
<line x1="147.2" y1="442.5" x2="242.8" y2="442.5" stroke="#3c3c3c" stroke-width="1.1" stroke-dasharray="4.2,2.3"/>
<line x1="147.5" y1="437.3" x2="147.5" y2="442.1" stroke="#333" stroke-width="1"/>
<line x1="242.5" y1="437.3" x2="242.5" y2="442.1" stroke="#333" stroke-width="1"/>
<line x1="173.5" y1="442.1" x2="173.5" y2="460.0" stroke="#3c3c3c" stroke-width="1.1" stroke-dasharray="4.2,2.3"/>
<line x1="216.5" y1="442.1" x2="216.5" y2="460.0" stroke="#3c3c3c" stroke-width="1.1" stroke-dasharray="4.2,2.3"/>
<line x1="173.5" y1="460.0" x2="173.5" y2="505.0" stroke="#333" stroke-width="1"/>
<line x1="216.5" y1="460.0" x2="216.5" y2="505.0" stroke="#333" stroke-width="1"/>
<line x1="175.0" y1="506.5" x2="215.0" y2="506.5" stroke="#333" stroke-width="1"/>
<line x1="173.1" y1="505.0" x2="175.0" y2="506.0" stroke="#333" stroke-width="1"/>
<line x1="216.9" y1="505.0" x2="215.0" y2="506.0" stroke="#333" stroke-width="1"/>
<line x1="170.5" y1="437.3" x2="170.5" y2="442.1" stroke="#444444" stroke-width="1.15"/>
<line x1="219.5" y1="437.3" x2="219.5" y2="442.1" stroke="#444444" stroke-width="1.15"/>
<circle cx="195.0" cy="482.5" r="32.3" fill="none" stroke="#3c3c3c" stroke-width="1.1" stroke-dasharray="4.2,2.3"/>
<circle cx="195.0" cy="482.5" r="29.0" fill="none" stroke="#333" stroke-width="1.1"/>
<circle cx="195.0" cy="482.5" r="27.0" fill="none" stroke="#333" stroke-width="1"/>
<circle cx="147.2" cy="498.4" r="1.5" fill="none" stroke="#444444" stroke-width="1"/>
<circle cx="242.8" cy="498.4" r="1.5" fill="none" stroke="#444444" stroke-width="1"/>
<line x1="194.5" y1="487.0" x2="194.5" y2="548.0" stroke="#444444" stroke-width="1.15"/>
<line x1="158.6" y1="512.5" x2="231.4" y2="512.5" stroke="#3c3c3c" stroke-width="1.1" stroke-dasharray="4.2,2.3"/>
<line x1="154.8" y1="517.0" x2="235.2" y2="517.0" stroke="#3c3c3c" stroke-width="1.5" stroke-dasharray="4.2,2.3"/>
<line x1="151.5" y1="520.5" x2="238.5" y2="520.5" stroke="#444" stroke-width="1"/>
<line x1="144.5" y1="527.5" x2="245.5" y2="527.5" stroke="#3c3c3c" stroke-width="1.1" stroke-dasharray="4.2,2.3"/>
<line x1="130.0" y1="536.0" x2="260.0" y2="536.0" stroke="#222" stroke-width="1.7" stroke-dasharray="5,1.2"/>
<line x1="130.0" y1="541.5" x2="260.0" y2="541.5" stroke="#444" stroke-width="1.3"/>
<line x1="145.0" y1="527.5" x2="151.5" y2="520.3" stroke="#333" stroke-width="1.1"/>
<line x1="245.0" y1="527.5" x2="238.5" y2="520.3" stroke="#333" stroke-width="1.1"/>
<line x1="130.0" y1="542.3" x2="145.0" y2="527.5" stroke="#3c3c3c" stroke-width="1.1" stroke-dasharray="4.2,2.3"/>
<line x1="260.0" y1="542.3" x2="245.0" y2="527.5" stroke="#3c3c3c" stroke-width="1.1" stroke-dasharray="4.2,2.3"/>
<line x1="130.5" y1="545.0" x2="130.5" y2="595.0" stroke="#444444" stroke-width="1.15"/>
<line x1="260.5" y1="545.0" x2="260.5" y2="595.0" stroke="#444444" stroke-width="1.15"/>
<line x1="194.5" y1="570.0" x2="194.5" y2="595.0" stroke="#444444" stroke-width="1.15"/>
<line x1="128.0" y1="565.5" x2="264.0" y2="565.5" stroke="#444444" stroke-width="1.15"/>
<line x1="126.2" y1="569.1" x2="133.8" y2="561.5" stroke="#1a1a1a" stroke-width="1.1"/>
<line x1="256.2" y1="569.1" x2="263.8" y2="561.5" stroke="#1a1a1a" stroke-width="1.1"/>
<text x="0" y="0" font-size="10.2" text-anchor="middle" fill="#1a1a1a" font-weight="normal" stroke="#1a1a1a" stroke-width="0.12" transform="translate(195.0 562.0) rotate(0) scale(1.12 1)">446</text>
<line x1="128.0" y1="587.5" x2="264.0" y2="587.5" stroke="#444444" stroke-width="1.15"/>
<line x1="126.2" y1="591.3" x2="133.8" y2="583.7" stroke="#1a1a1a" stroke-width="1.1"/>
<line x1="191.2" y1="591.3" x2="198.8" y2="583.7" stroke="#1a1a1a" stroke-width="1.1"/>
<line x1="256.2" y1="591.3" x2="263.8" y2="583.7" stroke="#1a1a1a" stroke-width="1.1"/>
<text x="0" y="0" font-size="10.5" text-anchor="middle" fill="#1a1a1a" font-weight="normal" stroke="#1a1a1a" stroke-width="0.12" transform="translate(162.7 585.0) rotate(0) scale(1.12 1)">225</text>
<text x="0" y="0" font-size="10.5" text-anchor="middle" fill="#1a1a1a" font-weight="normal" stroke="#1a1a1a" stroke-width="0.12" transform="translate(228.0 585.0) rotate(0) scale(1.12 1)">225</text>
<line x1="368.6" y1="442.5" x2="589.7" y2="442.5" stroke="#444" stroke-width="1.3"/>
<line x1="368.6" y1="456.5" x2="589.7" y2="456.5" stroke="#444" stroke-width="1.3"/>
<line x1="368.6" y1="471.5" x2="589.7" y2="471.5" stroke="#444" stroke-width="1.3"/>
<line x1="450.5" y1="420.3" x2="450.5" y2="485.3" stroke="#444" stroke-width="1.3"/>
<line x1="484.5" y1="420.3" x2="484.5" y2="485.3" stroke="#444" stroke-width="1.3"/>
<line x1="520.5" y1="420.3" x2="520.5" y2="485.3" stroke="#444" stroke-width="1.3"/>
<line x1="554.5" y1="420.3" x2="554.5" y2="485.3" stroke="#444" stroke-width="1.3"/>
<text x="0" y="0" font-size="10.5" text-anchor="start" fill="#1a1a1a" font-weight="normal" stroke="#1a1a1a" stroke-width="0.12" transform="translate(368.6 453.7) rotate(0) scale(1.0 1)">5144</text>
<text x="0" y="0" font-size="10.5" text-anchor="start" fill="#1a1a1a" font-weight="normal" stroke="#1a1a1a" stroke-width="0.12" transform="translate(399.5 453.7) rotate(0) scale(1.0 1)">00</text>
<line x1="419.6" y1="455.3" x2="425.2" y2="445.8" stroke="#222" stroke-width="1.1"/>
<text x="0" y="0" font-size="10.5" text-anchor="start" fill="#1a1a1a" font-weight="normal" stroke="#1a1a1a" stroke-width="0.12" transform="translate(432.5 453.7) rotate(0) scale(1.0 1)">01</text>
<text x="0" y="0" font-size="10.5" text-anchor="middle" fill="#1a1a1a" font-weight="normal" stroke="#1a1a1a" stroke-width="0.12" transform="translate(467.5 453.7) rotate(0) scale(1.0 1)">X</text>
<text x="0" y="0" font-size="10.5" text-anchor="middle" fill="#1a1a1a" font-weight="normal" stroke="#1a1a1a" stroke-width="0.12" transform="translate(537.0 453.7) rotate(0) scale(1.0 1)">1010</text>
<text x="0" y="0" font-size="10.5" text-anchor="middle" fill="#1a1a1a" font-weight="normal" stroke="#1a1a1a" stroke-width="0.12" transform="translate(572.0 453.7) rotate(0) scale(1.0 1)">590</text>
<text x="0" y="0" font-size="10.5" text-anchor="start" fill="#1a1a1a" font-weight="normal" stroke="#1a1a1a" stroke-width="0.12" transform="translate(368.6 468.2) rotate(0) scale(1.0 1)">5148</text>
<text x="0" y="0" font-size="10.5" text-anchor="start" fill="#1a1a1a" font-weight="normal" stroke="#1a1a1a" stroke-width="0.12" transform="translate(399.5 468.2) rotate(0) scale(1.0 1)">00</text>
<line x1="419.6" y1="469.8" x2="425.2" y2="460.3" stroke="#222" stroke-width="1.1"/>
<text x="0" y="0" font-size="10.5" text-anchor="start" fill="#1a1a1a" font-weight="normal" stroke="#1a1a1a" stroke-width="0.12" transform="translate(432.5 468.2) rotate(0) scale(1.0 1)">01</text>
<text x="0" y="0" font-size="10.5" text-anchor="middle" fill="#1a1a1a" font-weight="normal" stroke="#1a1a1a" stroke-width="0.12" transform="translate(467.5 468.2) rotate(0) scale(1.0 1)">X</text>
<text x="0" y="0" font-size="10.5" text-anchor="middle" fill="#1a1a1a" font-weight="normal" stroke="#1a1a1a" stroke-width="0.12" transform="translate(502.0 468.2) rotate(0) scale(1.0 1)">X</text>
<text x="0" y="0" font-size="10.5" text-anchor="middle" fill="#1a1a1a" font-weight="normal" stroke="#1a1a1a" stroke-width="0.12" transform="translate(537.0 468.2) rotate(0) scale(1.0 1)">1010</text>
<text x="0" y="0" font-size="10.5" text-anchor="middle" fill="#1a1a1a" font-weight="normal" stroke="#1a1a1a" stroke-width="0.12" transform="translate(572.0 468.2) rotate(0) scale(1.0 1)">590</text>
<text x="0" y="0" font-size="10.5" text-anchor="start" fill="#1a1a1a" font-weight="normal" stroke="#1a1a1a" stroke-width="0.12" transform="translate(368.6 482.7) rotate(0) scale(1.0 1)">5149</text>
<text x="0" y="0" font-size="10.5" text-anchor="start" fill="#1a1a1a" font-weight="normal" stroke="#1a1a1a" stroke-width="0.12" transform="translate(399.5 482.7) rotate(0) scale(1.0 1)">00</text>
<line x1="419.6" y1="484.3" x2="425.2" y2="474.8" stroke="#222" stroke-width="1.1"/>
<text x="0" y="0" font-size="10.5" text-anchor="start" fill="#1a1a1a" font-weight="normal" stroke="#1a1a1a" stroke-width="0.12" transform="translate(432.5 482.7) rotate(0) scale(1.0 1)">01</text>
<text x="0" y="0" font-size="10.5" text-anchor="middle" fill="#1a1a1a" font-weight="normal" stroke="#1a1a1a" stroke-width="0.12" transform="translate(467.5 482.7) rotate(0) scale(1.0 1)">X</text>
<text x="0" y="0" font-size="10.5" text-anchor="middle" fill="#1a1a1a" font-weight="normal" stroke="#1a1a1a" stroke-width="0.12" transform="translate(502.0 482.7) rotate(0) scale(1.0 1)">X</text>
<text x="0" y="0" font-size="10.5" text-anchor="middle" fill="#1a1a1a" font-weight="normal" stroke="#1a1a1a" stroke-width="0.12" transform="translate(537.0 482.7) rotate(0) scale(1.0 1)">1010</text>
<text x="0" y="0" font-size="10.5" text-anchor="middle" fill="#1a1a1a" font-weight="normal" stroke="#1a1a1a" stroke-width="0.12" transform="translate(572.0 482.7) rotate(0) scale(1.0 1)">590</text>
<text x="0" y="0" font-size="10.5" text-anchor="middle" fill="#1a1a1a" font-weight="normal" stroke="#1a1a1a" stroke-width="0.12" transform="translate(537.0 437.2) rotate(0) scale(1.0 1)">H2</text>
<text x="0" y="0" font-size="10.5" text-anchor="middle" fill="#1a1a1a" font-weight="normal" stroke="#1a1a1a" stroke-width="0.12" transform="translate(572.0 437.2) rotate(0) scale(1.0 1)">A1</text>
<text x="0" y="0" font-size="10" text-anchor="middle" fill="#1a1a1a" font-weight="normal" stroke="#1a1a1a" stroke-width="0.12" transform="translate(461.0 427.5) rotate(0) scale(1.0 1)">1</text>
<text x="0" y="0" font-size="10" text-anchor="middle" fill="#1a1a1a" font-weight="normal" stroke="#1a1a1a" stroke-width="0.12" transform="translate(496.5 427.5) rotate(0) scale(1.0 1)">2</text>
<circle cx="467.6" cy="433.0" r="4.0" fill="none" stroke="#333" stroke-width="1.1"/>
<line x1="467.5" y1="426.0" x2="467.5" y2="440.0" stroke="#333" stroke-width="1.1"/>
<line x1="461.1" y1="432.5" x2="474.1" y2="432.5" stroke="#333" stroke-width="1.1"/>
<circle cx="502.0" cy="433.0" r="4.0" fill="none" stroke="#333" stroke-width="1.1"/>
<line x1="502.5" y1="426.0" x2="502.5" y2="440.0" stroke="#333" stroke-width="1.1"/>
<line x1="495.5" y1="432.5" x2="508.5" y2="432.5" stroke="#333" stroke-width="1.1"/>
<rect x="0" y="291.8" width="630" height="15.9" fill="#fff" fill-opacity="0.72"/><text x="-13.5" y="304" font-size="14" fill="#707070" textLength="50.4" lengthAdjust="spacingAndGlyphs">swim.ua</text><text x="59.2" y="304" font-size="14" fill="#707070" textLength="50.4" lengthAdjust="spacingAndGlyphs">swim.ua</text><text x="132.0" y="304" font-size="14" fill="#707070" textLength="50.4" lengthAdjust="spacingAndGlyphs">swim.ua</text><text x="204.8" y="304" font-size="14" fill="#707070" textLength="50.4" lengthAdjust="spacingAndGlyphs">swim.ua</text><text x="277.5" y="304" font-size="14" fill="#707070" textLength="50.4" lengthAdjust="spacingAndGlyphs">swim.ua</text><text x="350.2" y="304" font-size="14" fill="#707070" textLength="50.4" lengthAdjust="spacingAndGlyphs">swim.ua</text><text x="423.0" y="304" font-size="14" fill="#707070" textLength="50.4" lengthAdjust="spacingAndGlyphs">swim.ua</text><text x="495.8" y="304" font-size="14" fill="#707070" textLength="50.4" lengthAdjust="spacingAndGlyphs">swim.ua</text><text x="568.5" y="304" font-size="14" fill="#707070" textLength="50.4" lengthAdjust="spacingAndGlyphs">swim.ua</text>
</svg>
</body></html>
